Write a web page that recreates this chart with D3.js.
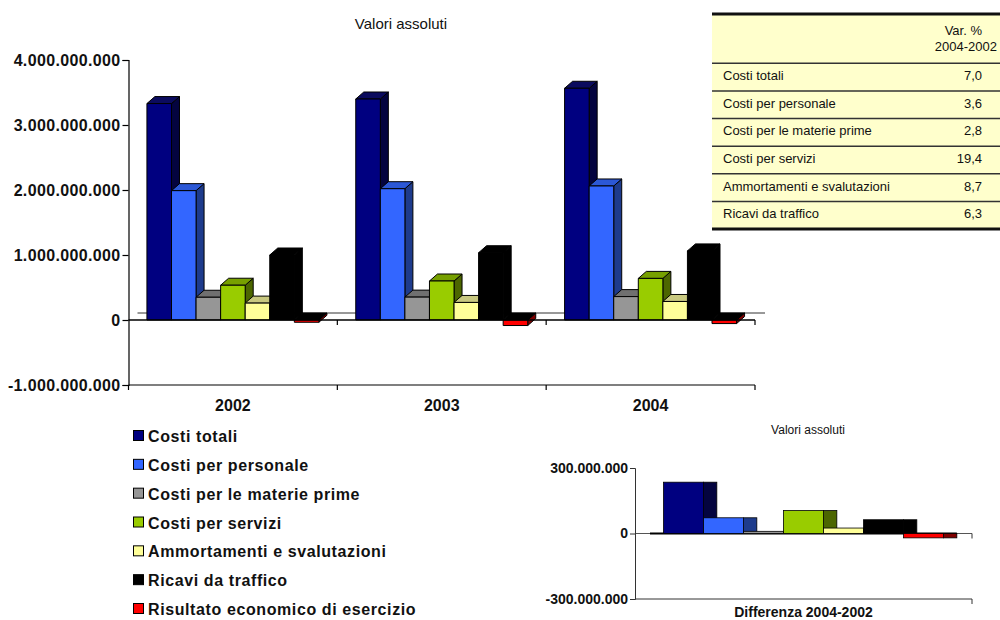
<!DOCTYPE html>
<html><head><meta charset="utf-8">
<script src="https://cdn.jsdelivr.net/npm/d3@7"></script>
<style>
html,body{margin:0;padding:0;background:#fff;}
svg{display:block;font-family:"Liberation Sans",Arial,sans-serif;}
</style></head><body>
<svg id="chart" width="1000" height="620"></svg>
<script>
// ---- data ----
const years = ["2002", "2003", "2004"];
const seriesNames = [
  "Costi totali",
  "Costi per personale",
  "Costi per le materie prime",
  "Costi per servizi",
  "Ammortamenti e svalutazioni",
  "Ricavi da traffico",
  "Risultato economico di esercizio"
];
const costiTotali        = [3.330e9, 3.400e9, 3.565e9];
const costiPersonale     = [1.990e9, 2.020e9, 2.062e9];
const costiMaterie       = [0.350e9, 0.352e9, 0.360e9];
const costiServizi       = [0.535e9, 0.600e9, 0.640e9];
const ammortamenti       = [0.260e9, 0.270e9, 0.285e9];
const ricaviTraffico     = [1.000e9, 1.035e9, 1.063e9];
const risultatoEsercizio = [-0.035e9, -0.085e9, -0.055e9];
const yTicks = [-1e9, 0, 1e9, 2e9, 3e9, 4e9];

const diffCategory = ["Differenza 2004-2002"];
const diffValues = [235e6, 72e6, 10e6, 105e6, 25e6, 63e6, -20e6];
const diffTicks = [-3e8, 0, 3e8];

const tableRows = [
  "Costi totali",
  "Costi per personale",
  "Costi per le materie prime",
  "Costi per servizi",
  "Ammortamenti e svalutazioni",
  "Ricavi da traffico"
];
const tableVar = [7.0, 3.6, 2.8, 19.4, 8.7, 6.3];

// ---- styling ----
const frontCol = ["#000080", "#3366FF", "#969696", "#99CC00", "#FFFF99", "#000000", "#FF0000"];
const topCol   = ["#0B0B5E", "#2C58D6", "#707070", "#77A000", "#C8C880", "#000000", "#000000"];
const sideCol  = ["#04043F", "#1E3B8C", "#4E4E4E", "#4C6600", "#80804C", "#000000", "#800000"];

const allSeries = [costiTotali, costiPersonale, costiMaterie, costiServizi,
                   ammortamenti, ricaviTraffico, risultatoEsercizio];

const loc = d3.formatLocale({decimal: ",", thousands: ".", grouping: [3], currency: ["", ""], minus: "-"});
const intFmt = loc.format(",.0f");
const pctFmt = loc.format(".1f");

const svg = d3.select("#chart");

// ================= main 3D column chart =================
const y = d3.scaleLinear().domain([-1e9, 4e9]).range([385, 60]);
const x = d3.scaleBand().domain(years).range([128.5, 755]);
const xs = d3.scaleBand().domain(seriesNames).range([0, x.bandwidth()]).paddingOuter(0.75);
const DX = 8, DY = -7;

svg.append("text")
  .attr("x", 401).attr("y", 29)
  .attr("text-anchor", "middle")
  .style("font-size", "15px").attr("fill", "#111")
  .text("Valori assoluti");

const main = svg.append("g");

// floor back edge
main.append("line")
  .attr("x1", x.range()[0] + DX + 1).attr("x2", x.range()[1] + DX + 2)
  .attr("y1", y(0) + DY).attr("y2", y(0) + DY)
  .attr("stroke", "#333").attr("stroke-width", 1);

years.forEach((yr, j) => {
  seriesNames.forEach((name, i) => {
    const v = allSeries[i][j];
    const x0 = x(yr) + xs(name);
    const x1 = x0 + xs.bandwidth();
    const yT = y(Math.max(v, 0));
    const yB = y(Math.min(v, 0));
    const g = main.append("g")
      .attr("stroke", "#000").attr("stroke-width", 1).attr("stroke-linejoin", "round");
    g.append("polygon")
      .attr("points", [[x1, yT], [x1 + DX, yT + DY], [x1 + DX, yB + DY], [x1, yB]].join(" "))
      .attr("fill", sideCol[i]);
    g.append("polygon")
      .attr("points", [[x0, yT], [x0 + DX, yT + DY], [x1 + DX, yT + DY], [x1, yT]].join(" "))
      .attr("fill", topCol[i]);
    g.append("rect")
      .attr("x", x0).attr("y", yT)
      .attr("width", x1 - x0).attr("height", Math.max(yB - yT, 0.5))
      .attr("fill", frontCol[i]);
  });
});

// y axis
const yAxis = main.append("g")
  .attr("transform", "translate(128.5,0)")
  .call(d3.axisLeft(y).tickValues(yTicks).tickSize(6).tickPadding(2).tickFormat(intFmt));
yAxis.select(".domain").attr("stroke", "#000").attr("stroke-width", 1.2);
yAxis.selectAll(".tick line").attr("stroke", "#000").attr("stroke-width", 1.2);
yAxis.selectAll("text")
  .attr("fill", "#111")
  .style("font-size", "16px").style("font-weight", "bold")
  .style("font-family", "'Liberation Sans',Arial,sans-serif")
  .style("letter-spacing", "0.35px");

// zero line with category ticks
const y0 = y(0);
main.append("line")
  .attr("x1", 128.5).attr("x2", x.range()[1])
  .attr("y1", y0).attr("y2", y0)
  .attr("stroke", "#000").attr("stroke-width", 1.5);
years.forEach(yr => {
  const bx = x(yr) + x.bandwidth();
  main.append("line").attr("x1", bx).attr("x2", bx)
    .attr("y1", y0).attr("y2", y0 + 5).attr("stroke", "#000").attr("stroke-width", 1.2);
});

// bottom category axis
const yb = y(-1e9);
main.append("line")
  .attr("x1", 128.5).attr("x2", x.range()[1])
  .attr("y1", yb).attr("y2", yb)
  .attr("stroke", "#000").attr("stroke-width", 1.2);
[x.range()[0]].concat(years.map(yr => x(yr) + x.bandwidth())).forEach(bx => {
  main.append("line").attr("x1", bx).attr("x2", bx)
    .attr("y1", yb).attr("y2", yb + 5).attr("stroke", "#000").attr("stroke-width", 1.2);
});
main.selectAll(".yearLabel").data(years).enter().append("text")
  .attr("x", d => x(d) + x.bandwidth() / 2).attr("y", 411)
  .attr("text-anchor", "middle")
  .style("font-size", "16px").style("font-weight", "bold").attr("fill", "#111")
  .text(d => d);

// ================= legend =================
const ly = d3.scalePoint().domain(seriesNames).range([436, 609]);
const legend = svg.append("g");
seriesNames.forEach((name, i) => {
  const cy = ly(name);
  legend.append("rect")
    .attr("x", 133.5).attr("y", cy - 5.5).attr("width", 10).attr("height", 10)
    .attr("fill", frontCol[i]).attr("stroke", "#000").attr("stroke-width", 1);
  legend.append("text")
    .attr("x", 148).attr("y", cy + 6)
    .style("font-size", "16px").style("font-weight", "bold")
    .style("letter-spacing", "0.6px").attr("fill", "#111")
    .text(name);
});

// ================= variation table =================
const tX0 = 712, tX1 = 1000, tTop = 14;
const ty = d3.scaleBand().domain(tableRows).range([63.3, 229]);
const table = svg.append("g");
table.append("rect")
  .attr("x", tX0).attr("y", tTop).attr("width", tX1 - tX0).attr("height", 229 - tTop)
  .attr("fill", "#FFFFCC");
table.append("text").attr("x", 982).attr("y", 35).attr("text-anchor", "end")
  .style("font-size", "13px").attr("fill", "#111").text("Var. %");
table.append("text").attr("x", 997).attr("y", 50.5).attr("text-anchor", "end")
  .style("font-size", "13px").attr("fill", "#111").text("2004-2002");
tableRows.forEach((r, i) => {
  const top = ty(r);
  table.append("line").attr("x1", tX0).attr("x2", tX1).attr("y1", top).attr("y2", top)
    .attr("stroke", "#333").attr("stroke-width", 1.5);
  const cy = top + ty.bandwidth() / 2;
  table.append("text").attr("x", 723).attr("y", cy + 3)
    .style("font-size", "13px").attr("fill", "#111").text(r);
  table.append("text").attr("x", 982).attr("y", cy + 3).attr("text-anchor", "end")
    .style("font-size", "13px").attr("fill", "#111").text(pctFmt(tableVar[i]));
});
table.append("line").attr("x1", tX0).attr("x2", tX1).attr("y1", tTop).attr("y2", tTop)
  .attr("stroke", "#111").attr("stroke-width", 3);
table.append("line").attr("x1", tX0).attr("x2", tX1).attr("y1", 229).attr("y2", 229)
  .attr("stroke", "#111").attr("stroke-width", 3);

// ================= difference chart =================
const ys = d3.scaleLinear().domain([-3e8, 3e8]).range([599, 468]);
const xd = d3.scaleBand().domain(diffCategory).range([635, 972]);
const xsd = d3.scaleBand().domain(seriesNames).range([0, xd.bandwidth()]).paddingOuter(0.7125);
const SIDE = xsd.bandwidth() / 3;
const small = svg.append("g");

small.append("text")
  .attr("x", 808).attr("y", 434).attr("text-anchor", "middle")
  .style("font-size", "12px").attr("fill", "#111").text("Valori assoluti");

const sz = ys(0);
small.append("line").attr("x1", 635).attr("x2", 972).attr("y1", sz).attr("y2", sz)
  .attr("stroke", "#555").attr("stroke-width", 1);
small.append("line")
  .attr("x1", xd(diffCategory[0]) + xsd.range()[0] + 15)
  .attr("x2", xd(diffCategory[0]) + xsd(seriesNames[6]) + xsd.bandwidth() + SIDE)
  .attr("y1", sz).attr("y2", sz)
  .attr("stroke", "#000").attr("stroke-width", 2);

seriesNames.forEach((name, i) => {
  const v = diffValues[i];
  const x0 = xd(diffCategory[0]) + xsd(name);
  const x1 = x0 + xsd.bandwidth();
  const yT = ys(Math.max(v, 0));
  const yB = ys(Math.min(v, 0));
  small.append("rect")
    .attr("x", x1).attr("y", yT).attr("width", SIDE).attr("height", yB - yT)
    .attr("fill", sideCol[i]).attr("stroke", "#000").attr("stroke-width", 0.8);
  small.append("rect")
    .attr("x", x0).attr("y", yT).attr("width", x1 - x0).attr("height", yB - yT)
    .attr("fill", frontCol[i]).attr("stroke", "#000").attr("stroke-width", 0.8);
});

const sAxis = small.append("g")
  .attr("transform", "translate(635,0)")
  .call(d3.axisLeft(ys).tickValues(diffTicks).tickSize(5).tickPadding(2).tickFormat(intFmt));
sAxis.select(".domain").attr("stroke", "#333").attr("stroke-width", 1);
sAxis.selectAll(".tick line").attr("stroke", "#333");
sAxis.selectAll("text")
  .attr("fill", "#111")
  .style("font-size", "14px").style("font-weight", "bold")
  .style("font-family", "'Liberation Sans',Arial,sans-serif");

small.append("line").attr("x1", 635).attr("x2", 972).attr("y1", 599).attr("y2", 599)
  .attr("stroke", "#333").attr("stroke-width", 1);
[sz, 599].forEach(yy => {
  small.append("line").attr("x1", 972).attr("x2", 972).attr("y1", yy).attr("y2", yy + 5)
    .attr("stroke", "#333").attr("stroke-width", 1);
});
small.append("text")
  .attr("x", xd(diffCategory[0]) + xd.bandwidth() / 2).attr("y", 617)
  .attr("text-anchor", "middle")
  .style("font-size", "14px").style("font-weight", "bold").attr("fill", "#111")
  .text(diffCategory[0]);
</script>
</body></html>
